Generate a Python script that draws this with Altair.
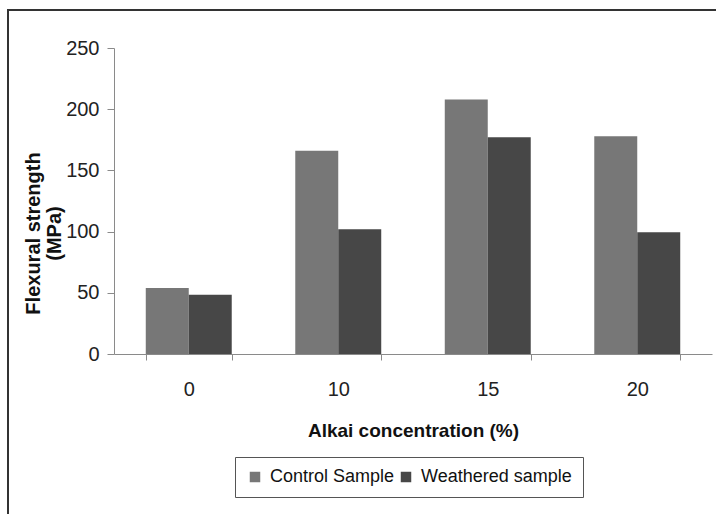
import altair as alt
import pandas as pd

categories = ["0", "10", "15", "20"]
series = ["Control Sample", "Weathered sample"]
control = [54, 166, 208, 178]
weathered = [48.5, 102, 177, 99.5]
y_ticks = [0, 50, 100, 150, 200, 250]

rows = []
for c, a, b in zip(categories, control, weathered):
    rows.append({"conc": c, "series": series[0], "value": a})
    rows.append({"conc": c, "series": series[1], "value": b})
df = pd.DataFrame(rows)

FONT = "Liberation Sans"

bars = alt.Chart(df).mark_bar().encode(
    x=alt.X(
        "conc:N",
        sort=categories,
        scale=alt.Scale(paddingInner=0.425, paddingOuter=0.2125),
        axis=alt.Axis(
            title="Alkai concentration (%)",
            labelAngle=0,
            tickBand="extent",
            tickSize=6,
            tickColor="#8a8a8a",
            domainColor="#8a8a8a",
            labelFont=FONT,
            labelFontSize=20,
            labelColor="#222222",
            labelPadding=19,
            titleFont=FONT,
            titleFontSize=19,
            titleFontWeight="bold",
            titleColor="#111111",
            titleY=67,
        ),
    ),
    xOffset=alt.XOffset("series:N", sort=series, scale=alt.Scale(paddingInner=0, paddingOuter=0)),
    y=alt.Y(
        "value:Q",
        scale=alt.Scale(domain=[0, 250]),
        axis=alt.Axis(
            values=y_ticks,
            title=["Flexural strength", "(MPa)"],
            grid=False,
            tickSize=7,
            tickColor="#8a8a8a",
            domainColor="#8a8a8a",
            labelFont=FONT,
            labelFontSize=20,
            labelColor="#222222",
            labelPadding=8,
            titleFont=FONT,
            titleFontSize=20,
            titleFontWeight="bold",
            titleColor="#111111",
            titleLineHeight=21,
            titleX=-71,
            titleY=185,
        ),
    ),
    color=alt.Color(
        "series:N",
        sort=series,
        scale=alt.Scale(domain=series, range=["#777777", "#474747"]),
        legend=alt.Legend(
            title=None,
            orient="none",
            legendX=121,
            legendY=409,
            direction="horizontal",
            symbolType="square",
            symbolSize=110,
            symbolStrokeWidth=0,
            labelFont=FONT,
            labelFontSize=18,
            labelColor="#111111",
            labelOffset=6,
            columnPadding=2,
            padding=11,
            strokeColor="#555555",
            fillColor="white",
        ),
    ),
)

frame = alt.Chart(pd.DataFrame({"k": [0]})).mark_rect(
    fillOpacity=0, stroke="#333333", strokeWidth=2
).encode(
    x=alt.value(-106),
    x2=alt.value(620),
    y=alt.value(-38),
    y2=alt.value(480),
)

chart = alt.layer(frame, bars).properties(
    width=598,
    height=306,
    autosize=alt.AutoSizeParams(type="none"),
    padding={"left": 114, "top": 48, "right": 4, "bottom": 160},
    background="white",
).configure_view(stroke="transparent")

chart.save("out.html", embed_options={"renderer": "svg", "actions": False})
